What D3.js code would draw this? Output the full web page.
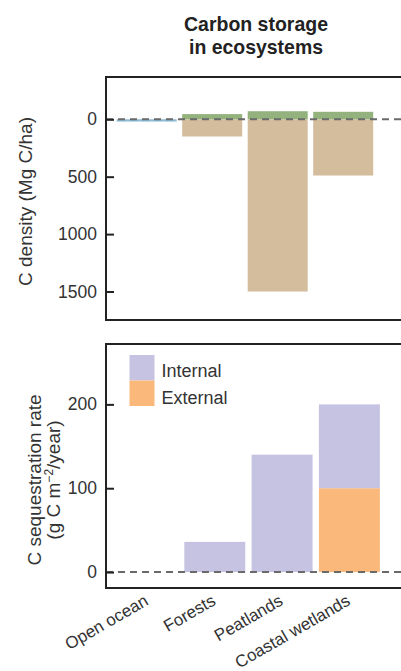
<!DOCTYPE html>
<html>
<head>
<meta charset="utf-8">
<script src="https://cdn.jsdelivr.net/npm/d3@7/dist/d3.min.js"></script>
<style>
  html, body { margin: 0; padding: 0; background: #fff; }
  svg { display: block; }
  text { font-family: "Liberation Sans", Arial, sans-serif; fill: #333; }
</style>
</head>
<body>
<script>
// Ecosystem categories shared by both panels
const categories = ["Open ocean", "Forests", "Peatlands", "Coastal wetlands"];

// Carbon density (Mg C/ha): biomass above ground, soil below ground
const aboveground = [0, 45, 70, 65];
const belowground = [0, 150, 1500, 490];
const oceanStock = [20, 0, 0, 0];

// Carbon sequestration rate (g C m^-2 / year)
const internalRate = [0, 36, 140, 100];
const externalRate = [0, 0, 0, 100];

const storageTicks = [0, 500, 1000, 1500];
const rateTicks = [0, 100, 200];
const legendLabels = ["Internal", "External"];
const titleLines = ["Carbon storage", "in ecosystems"];

const W = 401, H = 671;
const colors = {
  above: "#93b27d",
  below: "#d4bd9d",
  ocean: "#8dbcd8",
  internal: "#c6c3e2",
  external: "#fbb87b",
  frame: "#222",
  zero: "#6a6a6a"
};

const svg = d3.select("body").append("svg")
  .attr("width", W).attr("height", H);

// Title: bold, condensed to a narrow set width
svg.append("g").selectAll("text").data(titleLines).join("text")
  .attr("x", 256).attr("y", (d, i) => 31 + i * 23)
  .attr("text-anchor", "middle")
  .style("font-weight", "bold")
  .style("font-size", "21px")
  .style("fill", "#222")
  .attr("textLength", (d, i) => i === 0 ? 144 : 134)
  .attr("lengthAdjust", "spacingAndGlyphs")
  .text(d => d);

const frameLeft = 106, frameRight = 420;

// ---------- Upper panel: carbon density ----------
const upper = { y0: 77, y1: 320 };
const yStore = d3.scaleLinear().domain([-368, 1748]).range([upper.y0, upper.y1]);
const xTop = d3.scaleBand().domain(categories)
  .range([116.7, 116.7 + 65.5 * (4 - 0.084)])
  .paddingInner(0.084).paddingOuter(0);

const gTop = svg.append("g");
const storeRows = categories.map((c, i) => ({ c, above: aboveground[i], below: belowground[i], ocean: oceanStock[i] }));

gTop.selectAll("rect.below").data(storeRows.filter(d => d.below > 0)).join("rect")
  .attr("class", "below")
  .attr("x", d => xTop(d.c)).attr("width", xTop.bandwidth())
  .attr("y", yStore(0)).attr("height", d => yStore(d.below) - yStore(0))
  .attr("fill", colors.below);

gTop.selectAll("rect.above").data(storeRows.filter(d => d.above > 0)).join("rect")
  .attr("class", "above")
  .attr("x", d => xTop(d.c)).attr("width", xTop.bandwidth())
  .attr("y", d => yStore(-d.above)).attr("height", d => yStore(0) - yStore(-d.above))
  .attr("fill", colors.above);

gTop.selectAll("rect.ocean").data(storeRows.filter(d => d.ocean > 0)).join("rect")
  .attr("class", "ocean")
  .attr("x", d => xTop(d.c)).attr("width", xTop.bandwidth())
  .attr("y", yStore(0)).attr("height", d => yStore(d.ocean) - yStore(0))
  .attr("fill", colors.ocean);

gTop.append("line")
  .attr("x1", frameLeft).attr("x2", W)
  .attr("y1", yStore(0)).attr("y2", yStore(0))
  .attr("stroke", colors.zero).attr("stroke-width", 2)
  .attr("stroke-dasharray", "7,5");

gTop.append("rect")
  .attr("x", frameLeft).attr("y", upper.y0)
  .attr("width", frameRight - frameLeft).attr("height", upper.y1 - upper.y0)
  .attr("fill", "none").attr("stroke", colors.frame).attr("stroke-width", 2);

const axTop = gTop.append("g").attr("transform", `translate(${frameLeft},0)`)
  .call(d3.axisLeft(yStore).tickValues(storageTicks).tickSize(-8).tickPadding(9).tickFormat(d3.format("d")));
axTop.select(".domain").remove();
axTop.selectAll(".tick line").attr("stroke", colors.frame).attr("stroke-width", 2);
axTop.selectAll(".tick text").style("font-size", "17.5px").style("fill", "#333")
  .attr("x", -9).style("font-family", "'Liberation Sans', Arial, sans-serif");

svg.append("text")
  .attr("transform", `translate(32,${(upper.y0 + upper.y1) / 2 + 3}) rotate(-90)`)
  .attr("text-anchor", "middle")
  .style("font-size", "19px")
  .text("C density (Mg C/ha)");

// ---------- Lower panel: sequestration rate ----------
const lower = { y0: 344, y1: 588 };
const yRate = d3.scaleLinear().domain([-19, 272]).range([lower.y1, lower.y0]);
const xBot = d3.scaleBand().domain(categories)
  .range([117, 117 + 67.3 * (4 - 0.094)])
  .paddingInner(0.094).paddingOuter(0);

const gBot = svg.append("g");
const rateRows = categories.map((c, i) => ({ c, external: externalRate[i], internal: internalRate[i] }));
const stack = d3.stack().keys(["external", "internal"])(rateRows);

gBot.selectAll("g.layer").data(stack).join("g")
  .attr("class", "layer")
  .attr("fill", d => colors[d.key])
  .selectAll("rect").data(d => d.filter(s => s[1] - s[0] > 0)).join("rect")
  .attr("x", d => xBot(d.data.c)).attr("width", xBot.bandwidth())
  .attr("y", d => yRate(d[1])).attr("height", d => yRate(d[0]) - yRate(d[1]));

gBot.append("line")
  .attr("x1", frameLeft).attr("x2", W)
  .attr("y1", yRate(0)).attr("y2", yRate(0))
  .attr("stroke", colors.zero).attr("stroke-width", 2)
  .attr("stroke-dasharray", "7,5");

gBot.append("rect")
  .attr("x", frameLeft).attr("y", lower.y0)
  .attr("width", frameRight - frameLeft).attr("height", lower.y1 - lower.y0)
  .attr("fill", "none").attr("stroke", colors.frame).attr("stroke-width", 2);

const axBot = gBot.append("g").attr("transform", `translate(${frameLeft},0)`)
  .call(d3.axisLeft(yRate).tickValues(rateTicks).tickSize(-8).tickPadding(9).tickFormat(d3.format("d")));
axBot.select(".domain").remove();
axBot.selectAll(".tick line").attr("stroke", colors.frame).attr("stroke-width", 2);
axBot.selectAll(".tick text").style("font-size", "17.5px").style("fill", "#333")
  .attr("x", -9).style("font-family", "'Liberation Sans', Arial, sans-serif");

const rateTitle = svg.append("text")
  .attr("transform", `translate(0,${(lower.y0 + lower.y1) / 2 + 14}) rotate(-90)`)
  .attr("text-anchor", "middle")
  .style("font-size", "19px");
rateTitle.append("tspan").attr("x", 0).attr("y", 41).text("C sequestration rate");
const line2 = rateTitle.append("tspan").attr("x", 0).attr("y", 60);
line2.append("tspan").text("(g C m");
line2.append("tspan").attr("dy", -7).style("font-size", "12px").text("\u22122");
line2.append("tspan").attr("dy", 7).text("/year)");

// Legend
const legendKeys = ["internal", "external"];
const legend = svg.append("g").attr("transform", "translate(129.5,355)");
legend.selectAll("rect").data(legendKeys).join("rect")
  .attr("x", 0).attr("y", (d, i) => i * 25.5)
  .attr("width", 25).attr("height", 25.5)
  .attr("fill", d => colors[d]);
legend.selectAll("text").data(legendLabels).join("text")
  .attr("x", 32).attr("y", (d, i) => 21.5 + i * 27.5)
  .style("font-size", "18px")
  .text(d => d);

// Category labels under the lower panel
svg.append("g").selectAll("text").data(categories).join("text")
  .attr("transform", d => `translate(${xBot(d) + xBot.bandwidth() / 2 + 2},604) rotate(-30)`)
  .attr("text-anchor", "end")
  .style("font-size", "17px")
  .text(d => d);
</script>
</body>
</html>
